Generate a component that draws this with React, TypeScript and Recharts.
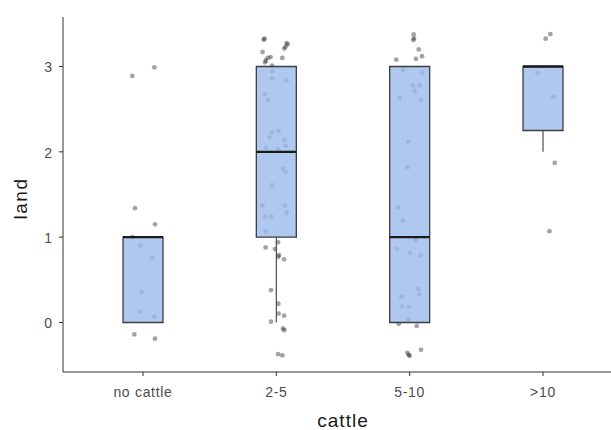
import {
  ComposedChart,
  ReferenceArea,
  ReferenceLine,
  Scatter,
  XAxis,
  YAxis
} from "recharts";

const CATEGORIES = ["no cattle", "2-5", "5-10", ">10"];

// box stats per category
const Q1 = [0, 1, 0, 2.25];
const MEDIAN = [1, 2, 1, 3];
const Q3 = [1, 3, 3, 3];
const WHISKER_LOW = [0, 0, 0, 2];
const WHISKER_HIGH = [1, 3, 3, 3];

// jittered points: [x position, land]
const NO_CATTLE: [number, number][] = [
  [0.92, 2.89], [1.085, 2.99], [0.94, 1.34], [1.09, 1.15], [0.92, 1.0],
  [0.98, 0.9], [1.07, 0.76], [0.99, 0.36], [0.98, 0.125], [1.085, 0.07],
  [0.935, -0.14], [1.09, -0.19]
];

const CATTLE_2_5: [number, number][] = [
  [1.912, 3.326], [1.905, 3.314], [2.077, 3.275], [2.085, 3.26], [2.068, 3.23],
  [2.06, 3.21], [1.897, 3.17], [1.957, 3.11], [1.935, 3.1], [2.045, 3.1],
  [1.922, 3.07], [1.915, 3.05], [1.968, 3.01], [1.97, 2.94], [1.968, 2.86],
  [2.077, 2.84], [1.915, 2.68], [1.938, 2.61], [2.017, 2.24], [1.968, 2.23],
  [1.948, 2.17], [2.06, 2.14], [2.07, 2.07], [1.923, 2.05], [2.013, 2.03],
  [2.05, 1.8], [2.07, 1.76], [1.968, 1.61], [1.897, 1.37], [2.062, 1.37],
  [2.077, 1.29], [1.915, 1.24], [1.962, 1.24], [1.92, 1.07], [2.013, 0.94],
  [1.92, 0.88], [1.99, 0.86], [2.02, 0.79], [2.015, 0.77], [2.058, 0.74],
  [1.96, 0.38], [2.015, 0.22], [2.017, 0.105], [2.058, 0.08], [1.96, 0.01],
  [2.05, -0.07], [2.06, -0.09], [2.013, -0.37], [2.045, -0.385]
];

const CATTLE_5_10: [number, number][] = [
  [3.03, 3.376], [3.032, 3.33], [3.028, 3.31], [3.068, 3.2], [3.093, 3.12],
  [3.047, 3.09], [2.9, 3.08], [2.95, 2.96], [3.095, 2.92], [3.023, 2.78],
  [3.075, 2.78], [3.038, 2.71], [2.925, 2.63], [3.083, 2.61], [2.99, 2.12],
  [2.985, 1.82], [2.912, 1.35], [2.95, 1.195], [3.045, 0.97], [2.905, 0.86],
  [3.0, 0.82], [3.083, 0.79], [3.065, 0.39], [3.073, 0.33], [2.938, 0.3],
  [2.943, 0.19], [2.993, 0.18], [2.99, 0.035], [2.918, -0.015], [3.053, -0.04],
  [3.085, -0.32], [2.983, -0.355], [2.993, -0.38], [3.0, -0.39]
];

const CATTLE_OVER_10: [number, number][] = [
  [4.02, 3.326], [4.055, 3.38], [3.96, 2.92], [4.077, 2.64], [4.088, 1.87],
  [4.048, 1.07]
];

const HALF_BOX = 0.15;
const FONT = "'Liberation Sans', Arial, sans-serif";

const points = [...NO_CATTLE, ...CATTLE_2_5, ...CATTLE_5_10, ...CATTLE_OVER_10].map(
  ([x, land]) => ({ x, land })
);

function Dot(props: any) {
  return <circle cx={props.cx} cy={props.cy} r={2.4} fill="#000" fillOpacity={0.36} />;
}

export default function App() {
  return (
    <div
      style={{
        position: "fixed",
        left: 0,
        top: 0,
        width: 611,
        height: 430,
        overflow: "hidden",
        background: "#fff"
      }}
    >
      <ComposedChart
        width={624}
        height={430}
        margin={{ top: 17, right: 1, bottom: 0, left: 0 }}
        style={{ fontFamily: FONT }}
      >
        <XAxis
          type="number"
          dataKey="x"
          domain={[0.4, 4.6]}
          ticks={[1, 2, 3, 4]}
          tickFormatter={(v) => CATEGORIES[v - 1]}
          allowDataOverflow
          height={58}
          stroke="#333"
          tickSize={4}
          tickMargin={11}
          tick={{ fill: "#4d4d4d", fontSize: 14, letterSpacing: 0.7 }}
          label={{
            value: "cattle",
            position: "insideBottom",
            offset: 3,
            fill: "#1a1a1a",
            fontSize: 19,
            letterSpacing: 1
          }}
        />
        <YAxis
          type="number"
          dataKey="land"
          domain={[-0.58, 3.58]}
          ticks={[0, 1, 2, 3]}
          allowDataOverflow
          width={63}
          stroke="#333"
          tickSize={4}
          tickMargin={7}
          tick={{ fill: "#4d4d4d", fontSize: 14, dy: 1 }}
          label={{
            value: "land",
            angle: -90,
            position: "center",
            dx: -11,
            dy: 4,
            fill: "#1a1a1a",
            fontSize: 19,
            letterSpacing: 1.5
          }}
        />
        <Scatter data={points} shape={Dot} isAnimationActive={false} zIndex={50} />
        {CATEGORIES.map((c, i) => (
          <ReferenceLine
            key={`wl-${c}`}
            segment={[{ x: i + 1, y: WHISKER_LOW[i] }, { x: i + 1, y: Q1[i] }]}
            stroke="#4d4d4d"
            strokeWidth={1.2}
            zIndex={90}
          />
        ))}
        {CATEGORIES.map((c, i) => (
          <ReferenceLine
            key={`wh-${c}`}
            segment={[{ x: i + 1, y: Q3[i] }, { x: i + 1, y: WHISKER_HIGH[i] }]}
            stroke="#4d4d4d"
            strokeWidth={1.2}
            zIndex={90}
          />
        ))}
        {CATEGORIES.map((c, i) => (
          <ReferenceArea
            key={`box-${c}`}
            x1={i + 1 - HALF_BOX}
            x2={i + 1 + HALF_BOX}
            y1={Q1[i]}
            y2={Q3[i]}
            fill="#9abaec"
            fillOpacity={0.8}
            stroke="#3d3d3d"
            strokeWidth={1.3}
            strokeOpacity={1}
            zIndex={100}
          />
        ))}
        {CATEGORIES.map((c, i) => (
          <ReferenceLine
            key={`med-${c}`}
            segment={[
              { x: i + 1 - HALF_BOX, y: MEDIAN[i] },
              { x: i + 1 + HALF_BOX, y: MEDIAN[i] }
            ]}
            stroke="#1a1a1a"
            strokeWidth={2.4}
            zIndex={110}
          />
        ))}
      </ComposedChart>
    </div>
  );
}
